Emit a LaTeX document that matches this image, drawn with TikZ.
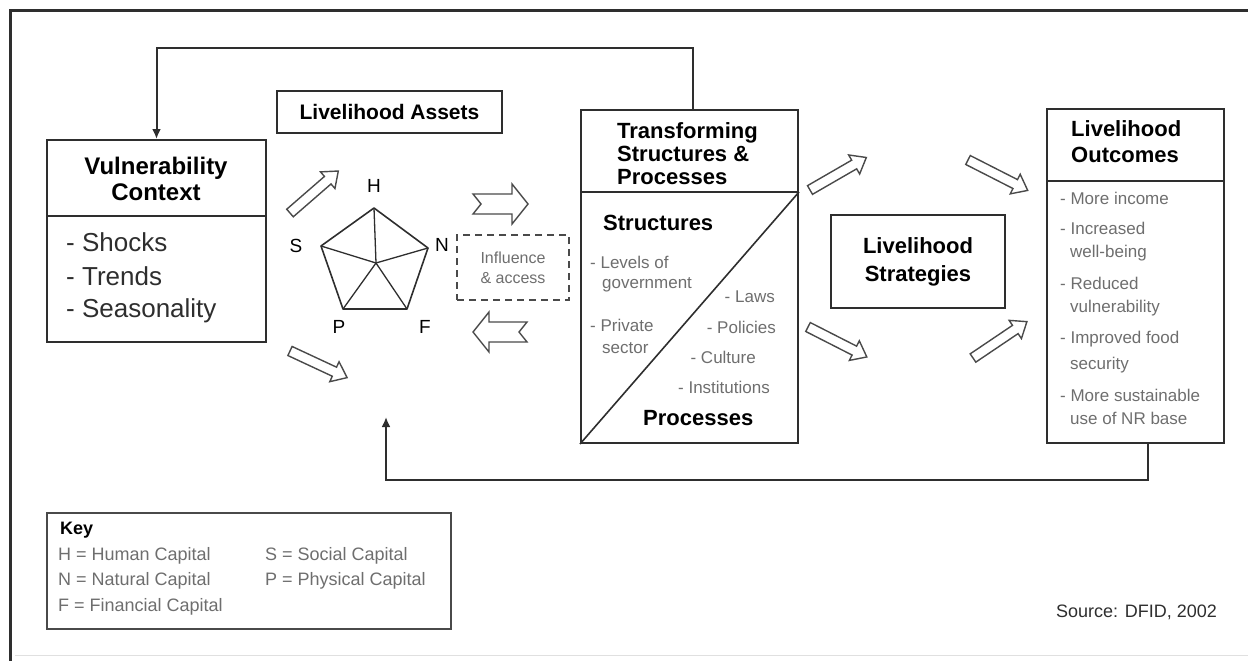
\documentclass[tikz,border=0pt]{standalone}
\usepackage{fontspec}
\setmainfont{Liberation Sans}
\usepackage{tikz}
\usetikzlibrary{arrows.meta, calc}
\definecolor{cLine} {HTML}{2E2E2E}
\definecolor{cMuted}{HTML}{6E6E6E}
\definecolor{cArrow}{HTML}{4A4A4A}
\newcommand{\fs}[1]{\fontsize{#1}{#1}\selectfont}
\tikzset{
  box/.style={draw=cLine, line width=2pt, inner sep=0pt},
  ttl/.style={font=\bfseries\fs{22}, text=black, inner sep=0pt},
  item/.style={font=\fs{17}, text=cMuted, inner sep=0pt},
  link/.style={draw=cLine, line width=2pt, -{Latex[length=10pt,width=9pt]}},
  hollow/.style={draw=cArrow, line width=1.4pt, fill=white, line join=miter},
  pics/slimarrow/.style={code={
    \draw[hollow] (0,-5) -- (#1-14,-5) -- (#1-14,-11) -- (#1,0)
      -- (#1-14,11) -- (#1-14,5) -- (0,5) -- cycle;}},
  pics/notcharrow/.style={code={
    \draw[hollow] (0,-10) -- (#1-16,-10) -- (#1-16,-20) -- (#1,0)
      -- (#1-16,20) -- (#1-16,10) -- (0,10) -- (8,0) -- cycle;}},
}

\begin{document}
\begin{tikzpicture}[x=1pt, y=-1pt]
  \useasboundingbox (0,0) rectangle (1248,661);
  % frame
  \draw[cLine, line width=3pt] (10,661) -- (10,11) -- (1248,11);
  \draw[black!12, line width=1pt] (15,655) -- (1248,655);

  % vulnerability context
  \node[box, minimum width=219pt, minimum height=202pt] (vc) at (156.5,241) {};
  \coordinate (vcdiv) at (0,216);
  \draw[cLine, line width=2pt] (vc.west |- vcdiv) -- (vc.east |- vcdiv);
  \node[ttl, font=\bfseries\fs{24}, align=center] (vctitle) at (156,179)
    {Vulnerability\\[2pt]Context};
  \foreach \yy/\txt in {242/Shocks, 276/Trends, 311/Seasonality}{
    \node[font=\fs{26}, text=cLine, anchor=west, inner sep=0pt] (vc\txt) at (66,\yy) {- \txt};
  }

  % livelihood assets
  \node[box, minimum width=225pt, minimum height=42pt, font=\bfseries\fs{21}] (la) at (389.5,112)
    {Livelihood Assets};
  \coordinate (pH) at (374,208);
  \coordinate (pS) at (321,246);
  \coordinate (pN) at (428,248);
  \coordinate (pP) at (343,309);
  \coordinate (pF) at (407,309);
  \coordinate (pC) at (376,263);
  \draw[cLine, line width=1.6pt, line join=round] (pH) -- (pN) -- (pF) -- (pP) -- (pS) -- cycle;
  \foreach \v in {pH, pS, pN, pP, pF}{
    \draw[cLine, line width=1.3pt] (pC) -- (\v);
  }
  \node[font=\fs{19}] (lH) at (374,186) {H};
  \node[font=\fs{19}] (lS) at (296,246) {S};
  \node[font=\fs{19}] (lN) at (442,245) {N};
  \node[font=\fs{19}] (lP) at (339,327) {P};
  \node[font=\fs{19}] (lF) at (425,327) {F};

  % hollow arrows
  \pic[rotate=41]  at (290,213) {slimarrow=64};
  \pic[rotate=-25] at (290,351) {slimarrow=63};
  \pic             at (473,204) {notcharrow=55};
  \pic[rotate=180] at (527,332) {notcharrow=54};
  \pic[rotate=30]  at (810,190) {slimarrow=65};
  \pic[rotate=-27] at (808,327) {slimarrow=66};
  \pic[rotate=-27] at (968,160) {slimarrow=67};
  \pic[rotate=34]  at (973,358) {slimarrow=65};

  \node[draw=cArrow, line width=2pt, dash pattern=on 7pt off 5pt, minimum width=112pt,
        minimum height=65pt, align=center, font=\fs{16}, text=cMuted] (infl) at (513,267.5)
    {Influence\\[4pt]\& access};

  % transforming structures & processes
  \node[box, minimum width=217pt, minimum height=333pt] (tsp) at (689.5,276.5) {};
  \coordinate (tspdiv) at (0,192);
  \draw[cLine, line width=2pt] (tsp.west |- tspdiv) -- (tsp.east |- tspdiv);
  \draw[cLine, line width=1.6pt] (tsp.south west) -- (tsp.east |- tspdiv);
  \node[ttl, align=left, anchor=west] (tsptitle) at (617,154)
    {Transforming\\[1pt]Structures \&\\[1pt]Processes};
  \node[ttl, anchor=west] (struct) at (603,223) {Structures};
  \node[ttl, anchor=west] (proc) at (643,418) {Processes};
  \node[item, anchor=west] (s1) at (590,262) {- Levels of};
  \node[item, anchor=west] (s2) at (602,285) {government};
  \node[item, anchor=west] (s3) at (590,325) {- Private};
  \node[item, anchor=west] (s4) at (602,348) {sector};
  \node[item, anchor=east] (p1) at (775,297) {- Laws};
  \node[item, anchor=east] (p2) at (776,327) {- Policies};
  \node[item, anchor=east] (p3) at (756,357) {- Culture};
  \node[item, anchor=east] (p4) at (770,387) {- Institutions};

  % livelihood strategies
  \node[box, minimum width=174pt, minimum height=93pt, font=\bfseries\fs{22}, align=center]
    (ls) at (918,261.5) {Livelihood\\[6pt]Strategies};

  % livelihood outcomes
  \node[box, minimum width=177pt, minimum height=334pt] (lo) at (1135.5,276) {};
  \coordinate (lodiv) at (0,181);
  \draw[cLine, line width=2pt] (lo.west |- lodiv) -- (lo.east |- lodiv);
  \node[ttl, align=left, anchor=west] (lotitle) at (1071,142) {Livelihood\\[4pt]Outcomes};
  \foreach \yy/\xx/\txt in {198/1060/{- More income}, 228/1060/{- Increased}, 253/1070/{well-being},
      283/1060/{- Reduced}, 308/1070/{vulnerability}, 339/1060/{- Improved food},
      365/1070/{security}, 395/1060/{- More sustainable}, 418/1070/{use of NR base}}{
    \node[item, anchor=west] (lo\yy) at (\xx,\yy) {\txt};
  }

  % feedback loops
  \coordinate (fbtop) at (693,48);
  \draw[link] (tsp.north -| fbtop) -- (fbtop) -| (vc.north);
  \coordinate (fbdown) at (1148,480);
  \coordinate (fbleft) at (386,480);
  \coordinate (fbend) at (386,417);
  \draw[link] (lo.south -| fbdown) -- (fbdown) -- (fbleft) -- (fbend);

  % key
  \node[draw=cArrow, line width=2pt, minimum width=404pt, minimum height=116pt] (key) at (249,571) {};
  \node[font=\bfseries\fs{18}, anchor=west, inner sep=0pt] (keyttl) at (60,530) {Key};
  \foreach \yy/\xx/\txt in {556/58/{H = Human Capital}, 581/58/{N = Natural Capital},
      607/58/{F = Financial Capital}, 556/265/{S = Social Capital}, 581/265/{P = Physical Capital}}{
    \node[item, font=\fs{18}, anchor=west] (key\xx\yy) at (\xx,\yy) {\txt};
  }

  \node[font=\fs{18}, text=cLine, anchor=east, inner sep=0pt] (src) at (1217,612) {Source: DFID, 2002};
\end{tikzpicture}
\end{document}
